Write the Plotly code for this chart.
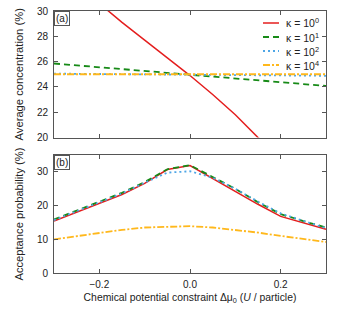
import plotly.graph_objects as go

mu = [-0.3, -0.25, -0.2, -0.15, -0.1, -0.05, 0.0, 0.05, 0.1, 0.15, 0.2, 0.25, 0.3]

# (a) Average concentration (%)
conc_k0 = [33.6, 32.1, 30.6, 29.1, 27.7, 26.3, 24.9, 23.4, 21.8, 20.0, 18.4, 16.8, 15.2]
conc_k1 = [25.85, 25.7, 25.55, 25.42, 25.28, 25.14, 25.0, 24.85, 24.7, 24.55, 24.4, 24.25, 24.08]
conc_k2 = [25.05, 25.04, 25.03, 25.02, 25.01, 25.0, 25.0, 24.98, 24.96, 24.94, 24.92, 24.9, 24.88]
conc_k4 = [25.0, 25.0, 25.0, 25.0, 25.0, 25.0, 25.0, 25.0, 25.0, 25.0, 25.0, 25.0, 25.0]

# (b) Acceptance probability (%)
acc_k0 = [15.4, 18.0, 20.5, 23.3, 26.6, 30.7, 31.9, 28.0, 24.3, 20.4, 16.8, 14.8, 13.0]
acc_k1 = [15.9, 18.5, 21.0, 23.8, 27.0, 30.8, 32.0, 28.6, 25.0, 21.0, 17.5, 15.4, 13.5]
acc_k2 = [15.7, 18.3, 20.8, 23.6, 26.8, 29.8, 30.2, 28.3, 25.0, 21.2, 17.7, 15.5, 13.3]
acc_k4 = [10.0, 11.0, 11.9, 12.8, 13.5, 13.8, 13.9, 13.5, 12.8, 12.0, 11.0, 10.1, 9.2]

labels = ["κ = 10<sup>0</sup>", "κ = 10<sup>1</sup>", "κ = 10<sup>2</sup>", "κ = 10<sup>4</sup>"]
colors = ["#e41e1e", "#178a17", "#4ea6e6", "#ffb81c"]
dashes = ["solid", "6px,4px", "2px,3px", "7px,2px,2px,2px"]
widths = [1.5, 1.8, 1.8, 1.8]

FONT = "Liberation Sans, Arial, sans-serif"
W, H = 341, 315
ML, MR, MT, MB = 54, 15, 11, 42
PW, PH = W - ML - MR, H - MT - MB


def px(xp):
    return (xp - ML) / PW


def py(yp):
    return (H - MB - yp) / PH


fig = go.Figure()
top = [conc_k0, conc_k1, conc_k2, conc_k4]
bot = [acc_k0, acc_k1, acc_k2, acc_k4]
for i in range(4):
    fig.add_trace(go.Scatter(x=mu, y=top[i], mode="lines", name=labels[i],
                             line=dict(color=colors[i], dash=dashes[i], width=widths[i]),
                             xaxis="x", yaxis="y", showlegend=False))
for i in range(4):
    fig.add_trace(go.Scatter(x=mu, y=bot[i], mode="lines", name=labels[i],
                             line=dict(color=colors[i], dash=dashes[i], width=widths[i]),
                             xaxis="x2", yaxis="y2", showlegend=False))

axcol = "#555555"
common = dict(showline=True, linecolor=axcol, linewidth=1, mirror="ticks", ticks="inside",
              ticklen=4, tickcolor=axcol, showgrid=False, zeroline=False, automargin=False,
              tickfont=dict(size=10, color="#222"))

# manual legend (sample lines + labels)
shapes = []
annotations = []
rows_y = [23, 37, 51, 65]
for i in range(4):
    shapes.append(dict(type="line", xref="paper", yref="paper",
                       x0=px(263), x1=px(279), y0=py(rows_y[i]), y1=py(rows_y[i]),
                       line=dict(color=colors[i], dash=dashes[i], width=widths[i])))
    annotations.append(dict(text=labels[i], xref="paper", yref="paper", x=px(284), y=py(rows_y[i]),
                            xanchor="left", yanchor="middle", showarrow=False,
                            font=dict(size=10.5, color="#222")))

annotations += [
    dict(text="(a)", xref="x domain", yref="y domain", x=0, y=1, xanchor="left", yanchor="top",
         showarrow=False, bordercolor=axcol, borderwidth=1, borderpad=1, bgcolor="white",
         font=dict(size=10)),
    dict(text="(b)", xref="x2 domain", yref="y2 domain", x=0, y=1, xanchor="left", yanchor="top",
         showarrow=False, bordercolor=axcol, borderwidth=1, borderpad=1, bgcolor="white",
         font=dict(size=10)),
]

fig.update_layout(
    width=W, height=H,
    margin=dict(l=ML, r=MR, t=MT, b=MB),
    paper_bgcolor="white", plot_bgcolor="white",
    font=dict(family=FONT, size=10, color="#222"),
    showlegend=False,
    xaxis=dict(domain=[0, 1], anchor="y", range=[-0.3, 0.3], tickvals=[-0.2, 0.0, 0.2],
               showticklabels=False, **common),
    yaxis=dict(domain=[0.517, 1], anchor="x", range=[20, 30], tickvals=[20, 22, 24, 26, 28, 30],
               title=dict(text="Average concentration (%)", standoff=10, font=dict(size=11.2)),
               ticklabelstandoff=3, **common),
    xaxis2=dict(domain=[0, 1], anchor="y2", range=[-0.3, 0.3], tickvals=[-0.2, 0.0, 0.2],
                tickformat=".1f", ticklabelstandoff=2,
                title=dict(text="Chemical potential constraint Δμ<sub>0</sub> (<i>U</i> / particle)",
                           standoff=4, font=dict(size=10.4)),
                **common),
    yaxis2=dict(domain=[0, 0.45], anchor="x2", range=[0, 35], tickvals=[0, 10, 20, 30],
                title=dict(text="Acceptance probability (%)", standoff=10, font=dict(size=11.2)),
                ticklabelstandoff=3, **common),
    shapes=shapes,
    annotations=annotations,
)

fig.write_html("out.html", config={"displayModeBar": False},
               post_script="document.body.style.margin='0';document.body.style.padding='0';")
